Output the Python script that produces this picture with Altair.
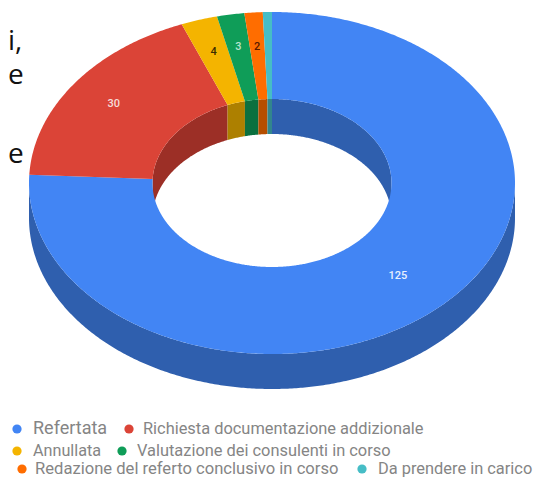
import math
import altair as alt

# ---- values ----
names = ["Refertata", "Richiesta documentazione addizionale", "Annullata",
         "Valutazione dei consulenti in corso",
         "Redazione del referto conclusivo in corso", "Da prendere in carico"]
values = [125, 30, 4, 3, 2, 1]
value_labels = ["125", "30", "4", "3", "2", ""]
top_colors = ["#4285f4", "#db4437", "#f4b400", "#0f9d58", "#ff6d00", "#46bdc6"]
wall_colors = ["#2f5fae", "#9c2f26", "#ad8000", "#0b703f", "#b54e00", "#32868d"]
label_colors = ["#e8f0fe", "#f6dcd9", "#3a2c00", "#b5e3cd", "#5a1a00", "#ffffff"]
label_radius = [0.75, 0.80, 0.80, 0.81, 0.80, 0.80]
cut_text = ["i,", "e", "e"]

# ---- layout (chart pixels = page pixels minus the 8px margin) ----
CX, CY, RX, RY = 264.0, 175.0, 243.0, 171.0
IX, IY, DEPTH = 119.5, 84.0, 35.0
cut_y = [42, 76, 155]
legend_layout = [  # dot x, text x, y, font size
    (9, 25, 421, 18), (121, 135, 421, 16.4),
    (9, 25, 443, 16.2), (114, 129, 443, 16.4),
    (14, 27, 461, 16.6), (354, 370, 461, 16.4),
]


def pt(deg, rx, ry, dy=0.0):
    t = math.radians(deg)
    return [CX + rx * math.sin(t), CY - ry * math.cos(t) + dy]


def arc(a, b, rx, ry, dy=0.0):
    n = max(2, int(abs(b - a) * 2) + 2)
    return [pt(a + (b - a) * i / (n - 1), rx, ry, dy) for i in range(n)]


def feature(ring, color):
    return {"type": "Feature", "color": color,
            "geometry": {"type": "Polygon", "coordinates": [ring + [ring[0]]]}}


total = sum(values)
starts, acc = [], 0.0
for v in values:
    starts.append(acc)
    acc += v * 360.0 / total

top, outer_wall, inner_wall, labels = [], [], [], []
for i, v in enumerate(values):
    a, b = starts[i], starts[i] + v * 360.0 / total
    top.append(feature(arc(a, b, RX, RY) + arc(b, a, IX, IY), top_colors[i]))
    lo, hi = max(a, 90), min(b, 270)
    if hi > lo:
        outer_wall.append(feature(arc(lo, hi, RX, RY) + arc(hi, lo, RX, RY, DEPTH), wall_colors[i]))
    for lo, hi in ((max(a, -90), min(b, 90)), (max(a, 270), min(b, 450))):
        if hi > lo:
            inner_wall.append(feature(arc(lo, hi, IX, IY) + arc(hi, lo, IX, IY, DEPTH), wall_colors[i]))
    p = pt((a + b) / 2, RX * label_radius[i], RY * label_radius[i])
    if value_labels[i]:
        labels.append({"lon": p[0], "lat": p[1], "t": value_labels[i], "c": label_colors[i]})

proj = dict(type="identity", scale=1, translate=[0, 0])


def shapes(feats):
    return alt.Chart(alt.Data(values=feats)).mark_geoshape(strokeWidth=0, stroke=None).encode(
        color=alt.Color("color:N", scale=None, legend=None)
    ).project(**proj)


value_text = alt.Chart(alt.Data(values=labels)).mark_text(
    font="Roboto", fontSize=11, fontWeight=500, align="center", baseline="middle"
).encode(
    longitude="lon:Q", latitude="lat:Q", text="t:N",
    color=alt.Color("c:N", scale=None, legend=None),
).project(**proj)

layers = [shapes(outer_wall), shapes(inner_wall), shapes(top), value_text]

for txt, y in zip(cut_text, cut_y):
    layers.append(
        alt.Chart(alt.Data(values=[{"t": txt}])).mark_text(
            font="Open Sans", fontSize=28, align="left", baseline="alphabetic", color="#111111"
        ).encode(x=alt.value(0), y=alt.value(y), text="t:N")
    )

for name, col, (dx, tx, y, fs) in zip(names, top_colors, legend_layout):
    row = alt.Data(values=[{"t": name}])
    layers.append(
        alt.Chart(row).mark_point(filled=True, size=85, color=col, opacity=1).encode(
            x=alt.value(dx), y=alt.value(y))
    )
    layers.append(
        alt.Chart(row).mark_text(
            font="Roboto", fontSize=fs, align="left", baseline="middle", color="#858585"
        ).encode(x=alt.value(tx), y=alt.value(y), text="t:N")
    )

chart = alt.layer(*layers).properties(
    width=528, height=470, padding=0, autosize=alt.AutoSizeParams(type="none"),
    background="#ffffff",
).configure_view(stroke=None)

chart.save("out.html", embed_options={"renderer": "svg", "actions": False})
